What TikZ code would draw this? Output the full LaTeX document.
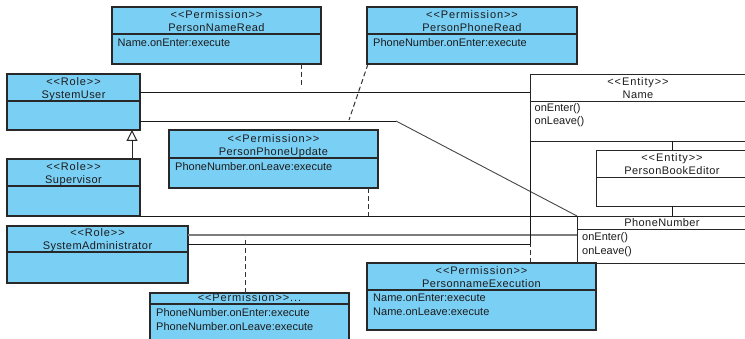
\documentclass[tikz,border=0pt]{standalone}
\usepackage{fontspec}
\setmainfont{Liberation Sans}
\newfontfamily\headfont[LetterSpace=4]{Liberation Sans}
\newfontfamily\stereofont[LetterSpace=8]{Liberation Sans}
\usetikzlibrary{fit,arrows.meta}

\definecolor{umlblue}{RGB}{122,207,245}
\definecolor{umledge}{RGB}{40,40,40}
\definecolor{umltext}{RGB}{28,28,28}
\definecolor{assocgray}{RGB}{125,125,125}
\definecolor{diaggray}{RGB}{70,70,70}

% class box: name, style, x1, y1, x2, y2, y of the header rule
\newcommand\umlbox[7]{%
  \coordinate (#1-nw) at (#3,#4);
  \coordinate (#1-se) at (#5,#6);
  \node[#2, fit=(#1-nw)(#1-se)] (#1) {};
  \draw[#2 rule] (#1.west |- 0,#7) -- (#1.east |- 0,#7);
}

\begin{document}
\begin{tikzpicture}[x=1pt,y=-1pt,
  perm/.style={rectangle, inner sep=0pt, outer sep=0pt, draw=umledge, fill=umlblue, line width=1.2pt},
  perm rule/.style={draw=umledge, line width=1.1pt},
  entity/.style={rectangle, inner sep=0pt, outer sep=0pt, draw=black!85, fill=white, line width=0.8pt},
  entity rule/.style={draw=black!85, line width=0.8pt},
  stereo/.style={anchor=base, inner sep=0pt, text=umltext, font=\stereofont\fontsize{11}{13}\selectfont},
  title/.style={anchor=base, inner sep=0pt, text=umltext, font=\headfont\fontsize{11}{13}\selectfont},
  member/.style={anchor=base west, inner sep=0pt, text=umltext, font=\fontsize{11}{13}\selectfont},
  assoc/.style={draw=black!90, line width=0.9pt},
  assocg/.style={draw=assocgray, line width=1.4pt},
  assocd/.style={draw=diaggray, line width=0.9pt},
  link/.style={draw=black!80, line width=1pt, dash pattern=on 5pt off 3pt},
  general/.style={draw=black!85, line width=1pt, -{Triangle[width=11pt,length=11pt,fill=white]}}
]
\useasboundingbox (0,0) rectangle (745,339);
\clip (0,0) rectangle (745,339);
\fill[white] (0,0) rectangle (745,339);

% ---------- classes ----------
\umlbox{pnr}{perm}{112}{7}{321}{64}{34}
\node[stereo] (pnr-s) at (pnr.center |- 0,18.5) {<<Permission>>};
\node[title]  (pnr-t) at (pnr.center |- 0,31.5) {PersonNameRead};
\node[member] (pnr-a) at (117.5,46.5) {Name.onEnter:execute};

\umlbox{ppr}{perm}{367}{7}{577}{64}{34}
\node[stereo] (ppr-s) at (ppr.center |- 0,18.5) {<<Permission>>};
\node[title]  (ppr-t) at (ppr.center |- 0,31.5) {PersonPhoneRead};
\node[member] (ppr-a) at (373,46.5) {PhoneNumber.onEnter:execute};

\umlbox{su}{perm}{7}{74}{140}{130}{101}
\node[stereo] (su-s) at (su.center |- 0,85.5) {<<Role>>};
\node[title]  (su-t) at (su.center |- 0,98.5) {SystemUser};

\umlbox{sv}{perm}{7}{159}{140}{216}{186}
\node[stereo] (sv-s) at (sv.center |- 0,170.5) {<<Role>>};
\node[title]  (sv-t) at (sv.center |- 0,183.5) {Supervisor};

\umlbox{ppu}{perm}{169}{130}{378}{188}{158}
\node[stereo] (ppu-s) at (ppu.center |- 0,142.5) {<<Permission>>};
\node[title]  (ppu-t) at (ppu.center |- 0,155.5) {PersonPhoneUpdate};
\node[member] (ppu-a) at (175,170.5) {PhoneNumber.onLeave:execute};

\umlbox{sa}{perm}{7}{226}{188}{283}{252}
\node[stereo] (sa-s) at (sa.center |- 0,236.5) {<<Role>>};
\node[title]  (sa-t) at (sa.center |- 0,249.5) {SystemAdministrator};

\umlbox{nm}{entity}{530}{74}{746}{141}{101}
\draw[entity rule] (nm.west |- 0,101) -- (nm.east |- 0,101);
\node[stereo] (nm-s) at (nm.center |- 0,85.5) {<<Entity>>};
\node[title]  (nm-t) at (nm.center |- 0,98.5) {Name};
\node[member] (nm-o1) at (534.5,111.5) {onEnter()};
\node[member] (nm-o2) at (534.5,125) {onLeave()};

\umlbox{pbe}{entity}{596}{150}{748}{206}{177}
\node[stereo] (pbe-s) at (pbe.center |- 0,161.5) {<<Entity>>};
\node[title]  (pbe-t) at (pbe.center |- 0,174.5) {PersonBookEditor};

\umlbox{pn}{entity}{577}{216}{747}{263}{229}
\node[title]  (pn-t) at (pn.center |- 0,226.5) {PhoneNumber};
\node[member] (pn-o1) at (582,241) {onEnter()};
\node[member] (pn-o2) at (582,254.5) {onLeave()};

\umlbox{pe}{perm}{367}{263}{596}{330}{290}
\node[stereo] (pe-s) at (pe.center |- 0,274.5) {<<Permission>>};
\node[title]  (pe-t) at (pe.center |- 0,287.5) {PersonnameExecution};
\node[member] (pe-a1) at (373,302) {Name.onEnter:execute};
\node[member] (pe-a2) at (373,316) {Name.onLeave:execute};

\umlbox{px}{perm}{150}{293}{349}{345}{304}
\node[stereo] (px-s) at (px.center |- 0,302) {<<Permission>>...};
\node[member] (px-a1) at (156,317) {PhoneNumber.onEnter:execute};
\node[member] (px-a2) at (156,330.5) {PhoneNumber.onLeave:execute};

% ---------- associations ----------
\draw[assoc] (su.east |- 0,92) -- (nm.west |- 0,92);
\coordinate (bend1) at (396,121);
\draw[assoc] (su.east |- bend1) -- (bend1);
\draw[assocd] (bend1) -- (pn.north west);
\draw[assoc] (sv.south east) -- (pn.north west);
\draw[assocg] (sa.east |- 0,235) -- (pn.west |- 0,235);
\coordinate (bend2) at (nm.south west |- 0,244);
\draw[assoc] (sa.east |- bend2) -- (bend2) -- (nm.south west);
\draw[assoc] (nm.south -| pbe.north) -- (pbe.north);
\draw[assoc] (pbe.south) -- (pbe.south |- pn.north);

% ---------- generalization ----------
\draw[general] (sv.north -| 132,0) -- (su.south -| 132,0);

% ---------- permission links ----------
\coordinate (l1) at (301,88);
\draw[link] (pnr.south -| l1) -- (l1);
\coordinate (l2) at (349,120);
\draw[link] (ppr.south west) ++(1,0) -- (l2);
\coordinate (l3) at (368,216);
\draw[link] (ppu.south -| l3) -- (l3);
\coordinate (l4) at (245,237);
\draw[link] (px.north -| l4) -- (l4);
\draw[link] (pe.north -| bend2) -- (bend2);
\end{tikzpicture}
\end{document}
